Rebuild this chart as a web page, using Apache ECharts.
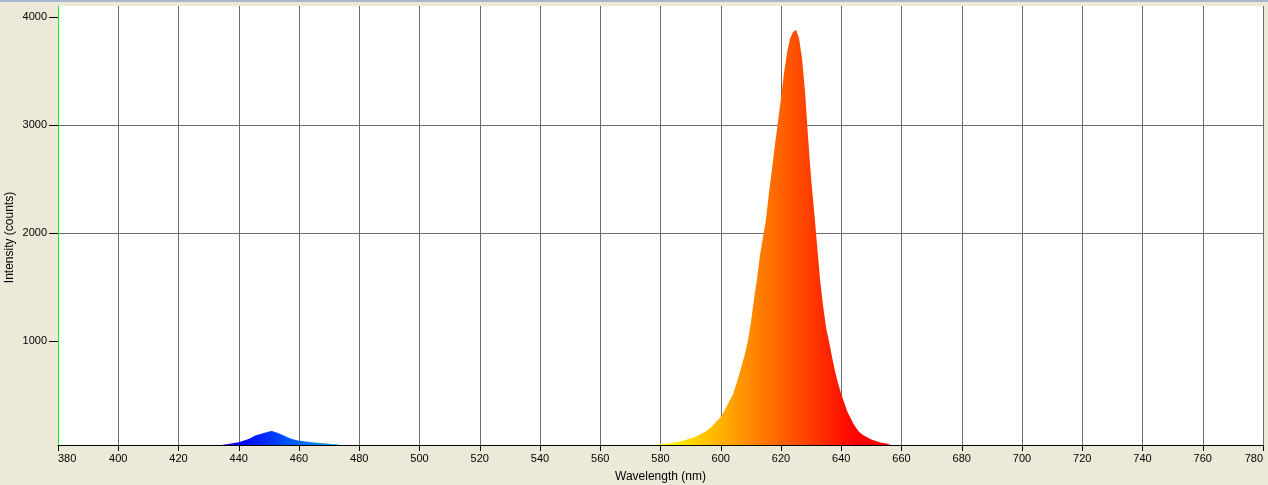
<!DOCTYPE html>
<html>
<head>
<meta charset="utf-8">
<title>Spectrum</title>
<script src="https://cdn.jsdelivr.net/npm/echarts@6/dist/echarts.min.js"></script>
<style>
  html, body { margin: 0; padding: 0; background: #ece9d8; }
  #chart { width: 1268px; height: 485px; }
</style>
</head>
<body>
<div id="chart"></div>
<script>
// wavelength (nm) and counts, 1 nm apart
let blueWavelengths = [434, 435, 436, 437, 438, 439, 440, 441, 442, 443, 444, 445, 446, 447, 448, 449,
  450, 451, 452, 453, 454, 455, 456, 457, 458, 459, 460, 461, 462, 463, 464, 465, 466, 467, 468, 469,
  470, 471, 472, 473, 474, 475]
let blueCounts = [30, 44, 46, 52, 56, 60, 66, 74, 83, 93, 105, 120, 133, 140, 148, 155,
  165, 170, 160, 152, 140, 127, 115, 103, 94, 86, 80, 76, 72, 69, 66, 64, 61, 59, 56, 53,
  51, 48, 46, 44, 36, 30]

let redWavelengths = [578, 579, 580, 581, 582, 583, 584, 585, 586, 587, 588, 589, 590, 591, 592, 593,
  594, 595, 596, 597, 598, 599, 600, 601, 602, 603, 604, 605, 606, 607, 608, 609, 610, 611, 612, 613,
  614, 615, 616, 617, 618, 619, 620, 621, 622, 623, 624, 625, 626, 627, 628, 629, 630, 631, 632, 633,
  634, 635, 636, 637, 638, 639, 640, 641, 642, 643, 644, 645, 646, 647, 648, 649, 650, 651, 652, 653,
  654, 655, 656, 657, 658]
let redCounts = [35, 42, 46, 50, 53, 57, 61, 66, 71, 78, 85, 93, 101, 109, 122, 137,
  152, 166, 186, 210, 240, 268, 300, 345, 400, 455, 505, 590, 680, 780, 880, 1000, 1170, 1380, 1570, 1790,
  1960, 2120, 2370, 2590, 2820, 3030, 3250, 3480, 3670, 3800, 3860, 3880, 3800, 3610, 3300, 2880, 2500, 2200, 1880, 1560,
  1320, 1120, 990, 845, 715, 605, 510, 430, 350, 295, 238, 195, 160, 138, 120, 104, 92, 82, 72, 64,
  58, 53, 44, 36, 30]

let xTicks = [380, 780, 20]
let yTickLabels = [1000, 2000, 3000, 4000]

let font = 'Liberation Sans, Arial, sans-serif'
let gridColor = '#6b6b6b'

// approximate visible colour for a wavelength
function wavelengthColor (wl) {
  let r = 0
  let g = 0
  let b = 0
  if (wl < 440) { r = -(wl - 440) / 60; b = 1 }
  else if (wl < 490) { g = (wl - 440) / 50; b = 1 }
  else if (wl < 510) { g = 1; b = -(wl - 510) / 20 }
  else if (wl < 580) { r = (wl - 510) / 70; g = 1 }
  else if (wl < 645) { r = 1; g = -(wl - 645) / 65 }
  else { r = 1 }
  let hex = v => Math.round(Math.max(0, Math.min(1, v)) * 255).toString(16).padStart(2, '0')
  return '#' + hex(r) + hex(g) + hex(b)
}

function pairs (xs, ys) {
  return xs.map((x, i) => [x, ys[i]])
}

let chart = echarts.init(document.getElementById('chart'))

let axisX = {
  type: 'value',
  min: xTicks[0],
  max: xTicks[1],
  interval: xTicks[2]
}

chart.setOption({
  backgroundColor: '#ece9d8',
  animation: false,
  graphic: [
    { type: 'rect', shape: { x: 0, y: 0, width: 1268, height: 2 }, style: { fill: '#a6b8cf' } }
  ],
  grid: {
    left: 58, right: 5, top: 6, bottom: 40,
    containLabel: false, outerBoundsMode: 'none',
    show: true, backgroundColor: '#ffffff', borderWidth: 0
  },
  xAxis: [
    Object.assign({}, axisX, {
      z: 0,
      axisLine: { show: false },
      axisTick: { show: false },
      axisLabel: { show: false },
      splitLine: { show: true, lineStyle: { color: gridColor, width: 1 } }
    }),
    Object.assign({}, axisX, {
      z: 5,
      position: 'bottom',
      name: 'Wavelength (nm)',
      nameLocation: 'middle',
      nameGap: 26,
      nameMoveOverlap: false,
      nameTextStyle: { color: '#000', fontFamily: font, fontSize: 12 },
      axisLine: { show: true, lineStyle: { color: '#000', width: 1 } },
      axisTick: { show: true, length: 6, lineStyle: { color: '#000' } },
      axisLabel: {
        show: true, margin: 8, color: '#000', fontFamily: font, fontSize: 11,
        alignMinLabel: 'left', alignMaxLabel: 'right'
      },
      splitLine: { show: false }
    })
  ],
  yAxis: {
    type: 'value',
    min: 40,
    max: 4100,
    name: 'Intensity (counts)',
    nameLocation: 'middle',
    nameGap: 42,
    nameMoveOverlap: false,
    nameTextStyle: { color: '#000', fontFamily: font, fontSize: 12, padding: [0, 24, 0, 0] },
    axisLine: { show: true, lineStyle: { color: '#00ff00', width: 1 } },
    axisTick: { show: true, length: 9, lineStyle: { color: '#000' }, customValues: yTickLabels },
    axisLabel: {
      margin: 11, color: '#000', fontFamily: font, fontSize: 11, customValues: yTickLabels,
      formatter: v => String(v)
    },
    splitLine: { show: true, showMinLine: false, showMaxLine: false, lineStyle: { color: gridColor, width: 1 } }
  },
  series: [
    { type: 'line', name: 'blue', data: pairs(blueWavelengths, blueCounts) },
    { type: 'line', name: 'red', data: pairs(redWavelengths, redCounts) }
  ].map(s => Object.assign(s, {
    xAxisIndex: 0,
    symbol: 'none',
    z: 2,
    lineStyle: { width: 0 },
    areaStyle: { origin: 'start', opacity: 1 }
  }))
})

// fill colour follows wavelength, laid along the x axis in pixels
let px0 = chart.convertToPixel({ xAxisIndex: 0 }, xTicks[0])
let px1 = chart.convertToPixel({ xAxisIndex: 0 }, xTicks[1])
let stops = []
for (let wl = xTicks[0]; wl <= xTicks[1]; wl += 2) {
  stops.push({ offset: (wl - xTicks[0]) / (xTicks[1] - xTicks[0]), color: wavelengthColor(wl) })
}
let fill = new echarts.graphic.LinearGradient(px0, 0, px1, 0, stops, true)
chart.setOption({
  series: [
    { areaStyle: { color: fill }, lineStyle: { color: fill } },
    { areaStyle: { color: fill }, lineStyle: { color: fill } }
  ]
})
</script>
</body>
</html>
